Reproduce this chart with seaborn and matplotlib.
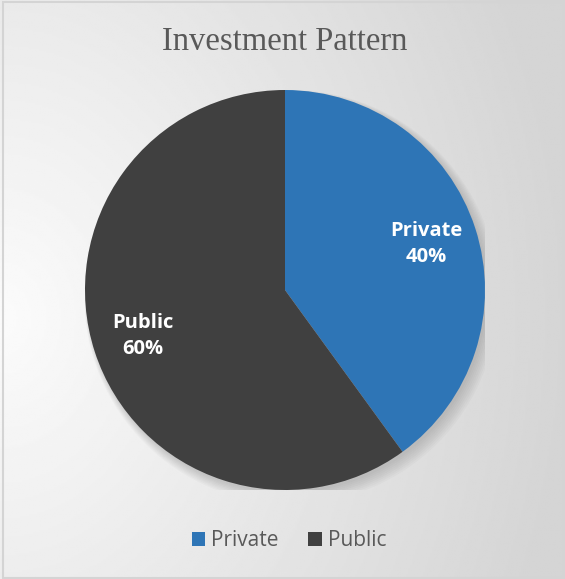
import numpy as np
import matplotlib
matplotlib.use("Agg")
import matplotlib.pyplot as plt
from matplotlib.patches import Rectangle, Circle
import seaborn as sns

# data
labels = ["Private", "Public"]
shares = [40, 60]
colors = ["#2E75B6", "#404040"]

sns.set_theme(style="white")
plt.rcParams["font.family"] = ["Open Sans", "DejaVu Sans"]

W, H = 565, 579
fig = plt.figure(figsize=(W / 100, H / 100), dpi=100)

# background gradient (light on the left, grey on the right)
bg = fig.add_axes([0, 0, 1, 1], zorder=-2)
xx, yy = np.meshgrid(np.linspace(0, 1, 300), np.linspace(0, 1, 300))
d = np.sqrt(xx ** 2 + ((yy - 0.55) / 1.2) ** 2)
d = np.clip(d, 0, 1)
shade = 0.985 - 0.15 * d
bg.imshow(shade, cmap="gray", vmin=0, vmax=1, aspect="auto",
          extent=[0, 1, 0, 1], origin="upper")
bg.add_patch(Rectangle((2.5 / W, 1 / H), (W - 4) / W, (H - 3) / H,
                       fill=False, edgecolor="#d4d4d4", lw=1.5))
bg.set_xlim(0, 1)
bg.set_ylim(0, 1)
bg.axis("off")

# pie axes: centre (285, 290), radius 200 px
cx, cy, r = 285, 290, 200
ax = fig.add_axes([(cx - r) / W, (H - cy - r) / H, 2 * r / W, 2 * r / H])

# soft shadow
for i in range(8):
    ax.add_patch(Circle((0.01 + 0.003 * i, -0.014 - 0.003 * i), 1.0 + 0.005 * i,
                        color="black", alpha=0.02, lw=0, zorder=0))

pie_labels = [f"{l}\n{s}%" for l, s in zip(labels, shares)]
wedges, texts = ax.pie(shares, colors=colors, startangle=90, counterclock=False,
                       labels=pie_labels, labeldistance=0.745, radius=1,
                       wedgeprops=dict(linewidth=0, zorder=2))
for t in texts:
    t.set_ha("center")
    t.set_va("center")
    t.set_color("white")
    t.set_fontsize(14.5)
    t.set_fontweight("bold")
    t.set_linespacing(1.4)
    t.set_zorder(3)
ax.set_xlim(-1, 1)
ax.set_ylim(-1, 1)
ax.set_aspect("auto")
ax.axis("off")

fig.text(cx / W, 1 - 42 / H, "Investment Pattern", ha="center", va="center",
         fontsize=23.5, color="#595959", family="Liberation Serif")

leg = fig.legend(wedges, labels, loc="center", bbox_to_anchor=(289 / W, 1 - 541 / H),
                 ncol=2, frameon=False, fontsize=15, handlelength=0.65,
                 handleheight=0.65, handletextpad=0.3, columnspacing=1.4)
for t in leg.get_texts():
    t.set_color("#595959")

fig.savefig("out.png", dpi=100)
